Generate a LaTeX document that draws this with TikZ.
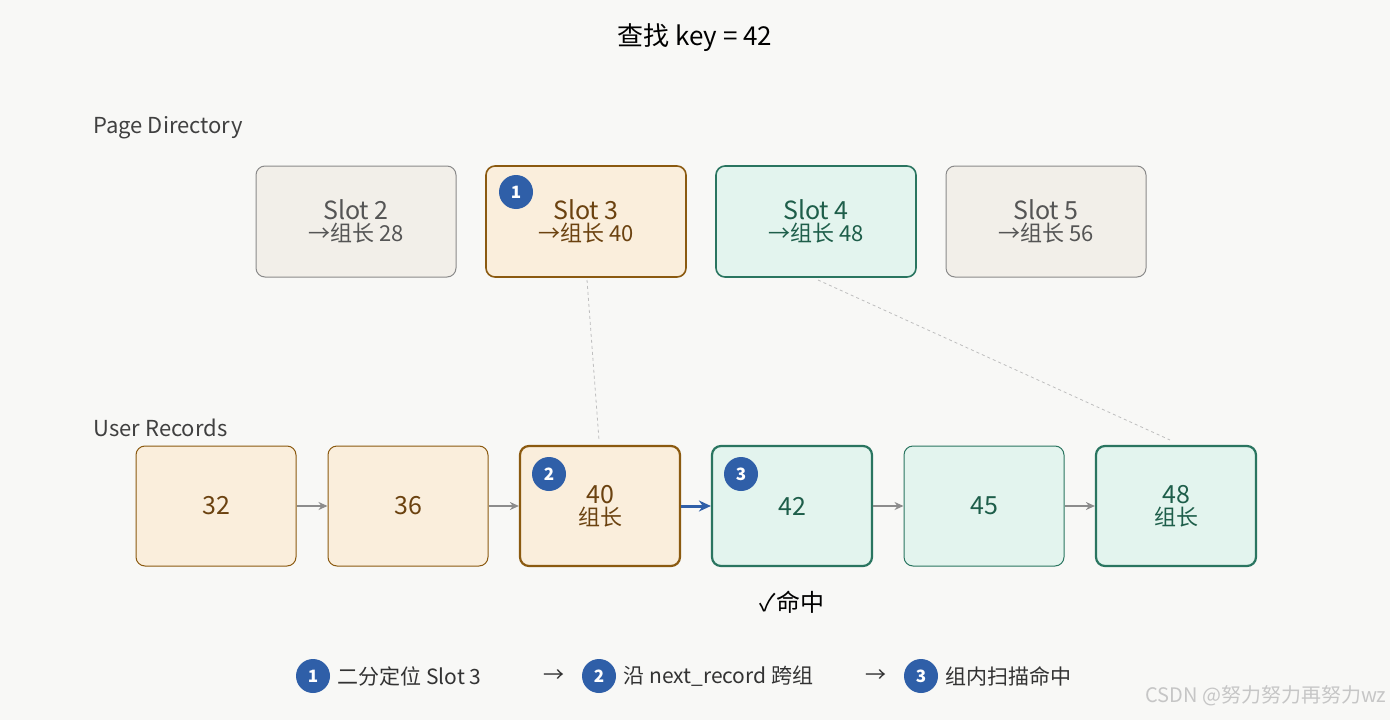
\documentclass[tikz,border=0pt]{standalone}
\usepackage{fontspec}
\setmainfont{Noto Sans CJK SC}
\usetikzlibrary{arrows.meta}
\definecolor{bg}{HTML}{F8F8F6}
\definecolor{gfill}{HTML}{F2EFE9}\definecolor{gline}{HTML}{8A8A8A}\definecolor{gtext}{HTML}{555555}
\definecolor{ofill}{HTML}{FAEEDC}\definecolor{oline}{HTML}{8B5A10}\definecolor{otext}{HTML}{6B4210}
\definecolor{nfill}{HTML}{E3F4EE}\definecolor{nline}{HTML}{2A7560}\definecolor{ntext}{HTML}{1E5E4A}
\definecolor{bl}{HTML}{2F5FA8}
\begin{document}
\begin{tikzpicture}[x=1pt,y=-1pt,
 box/.style={draw,rounded corners=9pt,minimum width=200pt,minimum height=111pt,line width=1pt,align=center,inner sep=0},
 rec/.style={draw,rounded corners=9pt,minimum width=160pt,minimum height=120pt,line width=1pt,align=center,inner sep=0},
 gr/.style={fill=gfill,draw=gline,text=gtext},
 orr/.style={fill=ofill,draw=oline,text=otext},
 gn/.style={fill=nfill,draw=nline,text=ntext},
 badge/.style={circle,fill=bl,text=white,minimum size=34pt,inner sep=0,font=\fontsize{17}{17}\selectfont\bfseries},
 lab/.style={font=\fontsize{22}{24}\selectfont,text=black!75,anchor=west},
 big/.style={font=\fontsize{25}{28}\selectfont},
 arr/.style={-{Stealth[length=9pt,width=8pt]},draw=gray!90,line width=1.8pt}]
\fill[bg] (0,0) rectangle (1390,720);
\useasboundingbox (0,0) rectangle (1390,720);
\node[font=\fontsize{26}{28}\selectfont] (title) at (695,38) {查找 key = 42};
\node[lab] (pd) at (90,128) {Page Directory};
\node[lab] (ur) at (90,428) {User Records};
\newcommand{\slotlbl}[2]{{\fontsize{25}{32}\selectfont #1}\\[2pt]{\fontsize{22}{26}\selectfont →组长 #2}}
\node[box,gr] (s2) at (356,221.5) {\slotlbl{Slot 2}{28}};
\node[box,orr,line width=1.6pt] (s3) at (586,221.5) {\slotlbl{Slot 3}{40}};
\node[box,gn,line width=1.6pt] (s4) at (816,221.5) {\slotlbl{Slot 4}{48}};
\node[box,gr] (s5) at (1046,221.5) {\slotlbl{Slot 5}{56}};
\node[rec,orr,big] (r32) at (216,506) {32};
\node[rec,orr,big] (r36) at (408,506) {36};
\node[rec,orr,line width=2.2pt] (r40) at (600,506) {{\fontsize{25}{32}\selectfont 40}\\[2pt]{\fontsize{22}{26}\selectfont 组长}};
\node[rec,gn,line width=2.2pt,big] (r42) at (792,506) {42};
\node[rec,gn,big] (r45) at (984,506) {45};
\node[rec,gn,line width=2.2pt] (r48) at (1176,506) {{\fontsize{25}{32}\selectfont 48}\\[2pt]{\fontsize{22}{26}\selectfont 组长}};
\draw[arr] (r32) -- (r36);
\draw[arr] (r36) -- (r40);
\draw[-{Stealth[length=12pt,width=11pt]},draw=bl,line width=3pt] (r40) -- (r42);
\draw[arr] (r42) -- (r45);
\draw[arr] (r45) -- (r48);
\draw[dashed,gray!50,line width=0.8pt] (587,280) -- (599,440);
\draw[dashed,gray!50,line width=0.8pt] (818,280) -- (1170,440);
\node[badge] (b1) at (516,192) {1};
\node[badge] (b2) at (549,474) {2};
\node[badge] (b3) at (741,474) {3};
\node[font=\fontsize{24}{26}\selectfont] (hit) at (792,602) {✓命中};
\tikzset{leg/.style={font=\fontsize{21}{24}\selectfont,text=black!80,anchor=west}}
\node[badge] (l1) at (313,676) {1};
\node[leg] (t1) at (334,676) {二分定位 Slot 3};
\node[leg] (a1) at (540,676) {→};
\node[badge] (l2) at (599,676) {2};
\node[leg] (t2) at (620,676) {沿 next\_record 跨组};
\node[leg] (a2) at (862,676) {→};
\node[badge] (l3) at (921,676) {3};
\node[leg] (t3) at (942,676) {组内扫描命中};
\node[font=\fontsize{20}{22}\selectfont,text=gray!45,anchor=east] (wm) at (1390,696) {CSDN @努力努力再努力wz};
\end{tikzpicture}
\end{document}
